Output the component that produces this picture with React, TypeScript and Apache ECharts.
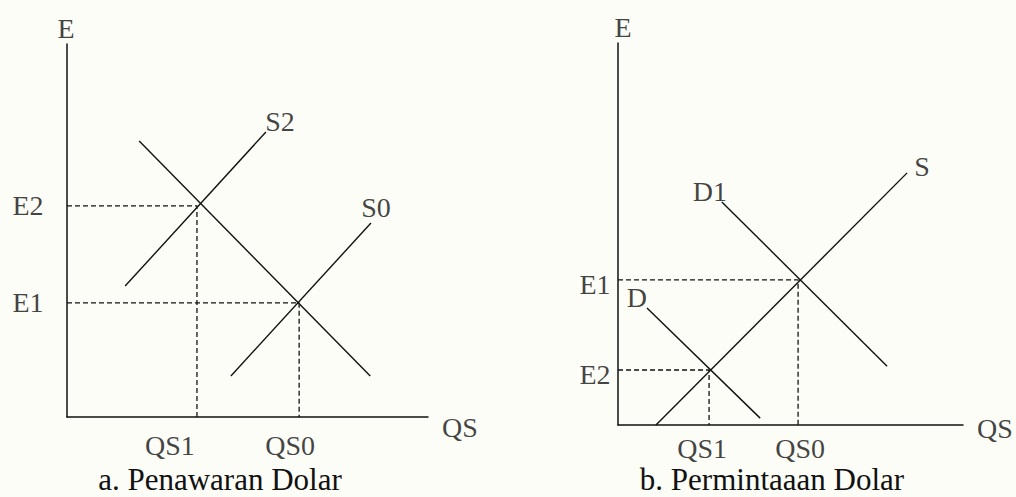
import React, { useEffect, useRef } from "react";
import * as echarts from "echarts";

// ---- Data (axis units 0..100) ----
// Panel a: Penawaran Dolar
const aELevels = { E1: 30.6, E2: 56.6 };
const aQSLevels = { QS0: 64.3, QS1: 36.0 };
const aDemand: number[][] = [[20, 74], [84, 11]];
const aS2: number[][] = [[16.1, 35.1], [55.1, 76.4]];
const aS0: number[][] = [[45.4, 11], [84.2, 52]];

// Panel b: Permintaaan Dolar
const bELevels = { E1: 38.0, E2: 14.4 };
const bQSLevels = { QS0: 52.2, QS1: 26.4 };
const bS: number[][] = [[11, 0], [83.8, 66]];
const bD1: number[][] = [[30.1, 58.4], [78, 15.4]];
const bD: number[][] = [[8.4, 30.6], [41.2, 1.8]];

const titles = ["a. Penawaran Dolar", "b. Permintaaan Dolar"];

const FONT = "Liberation Serif";
const INK = "#111111";
const LBL = 28;

function solid(name: string, data: number[][], idx: number) {
  return {
    type: "line",
    name,
    xAxisIndex: idx,
    yAxisIndex: idx,
    data,
    symbol: "none",
    lineStyle: { color: INK, width: 1.4 },
    silent: true,
  };
}
function dashed(name: string, pts: number[][], idx: number) {
  return {
    type: "line",
    name,
    xAxisIndex: idx,
    yAxisIndex: idx,
    data: pts,
    symbol: "none",
    lineStyle: { color: INK, width: 1.3, type: [5, 3] },
    silent: true,
  };
}
function labels(idx: number, items: { text: string; at: number[]; dx: number; dy: number }[]) {
  return {
    type: "scatter",
    xAxisIndex: idx,
    yAxisIndex: idx,
    symbolSize: 0,
    silent: true,
    clip: false,
    data: items.map((it) => ({
      value: it.at,
      label: {
        show: true,
        position: "inside",
        offset: [it.dx, it.dy],
        formatter: it.text,
        fontFamily: FONT,
        fontSize: LBL,
        color: INK,
        align: "center",
        verticalAlign: "middle",
      },
    })),
  };
}

export default function App() {
  const ref = useRef<HTMLDivElement>(null);
  useEffect(() => {
    if (!ref.current) return;
    const chart = echarts.init(ref.current, undefined, { renderer: "svg" });
    const axisBase = {
      type: "value",
      min: 0,
      max: 100,
      axisLine: { show: true, onZero: false, lineStyle: { color: INK, width: 1.5 } },
      axisTick: { show: false },
      axisLabel: { show: false },
      splitLine: { show: false },
    };
    const first = (d: number[][]) => d[0];
    const last = (d: number[][]) => d[d.length - 1];
    const titleStyle = { fontFamily: FONT, fontSize: 31, lineHeight: 31, fontWeight: "normal", color: INK };
    chart.setOption({
      animation: false,
      backgroundColor: "#fdfdf8",
      title: [
        { text: titles[0], left: 220, top: 464, padding: 0, textAlign: "center", textStyle: titleStyle },
        { text: titles[1], left: 772, top: 464, padding: 0, textAlign: "center", textStyle: titleStyle },
      ],
      grid: [
        { left: 67, top: 44, width: 361, height: 373 },
        { left: 618, top: 43, width: 345, height: 382 },
      ],
      xAxis: [
        { ...axisBase, gridIndex: 0 },
        { ...axisBase, gridIndex: 1 },
      ],
      yAxis: [
        { ...axisBase, gridIndex: 0 },
        { ...axisBase, gridIndex: 1 },
      ],
      series: [
        // Panel a
        dashed("E2a", [[0, aELevels.E2], [aQSLevels.QS1, aELevels.E2], [aQSLevels.QS1, 0]], 0),
        dashed("E1a", [[0, aELevels.E1], [aQSLevels.QS0, aELevels.E1], [aQSLevels.QS0, 0]], 0),
        solid("Demand", aDemand, 0),
        solid("S2", aS2, 0),
        solid("S0", aS0, 0),
        labels(0, [
          { text: "E", at: [0, 100], dx: -1, dy: -16 },
          { text: "QS", at: [100, 0], dx: 32, dy: 10 },
          { text: "E2", at: [0, aELevels.E2], dx: -39, dy: 0 },
          { text: "E1", at: [0, aELevels.E1], dx: -39, dy: 0 },
          { text: "QS1", at: [aQSLevels.QS1, 0], dx: -27, dy: 28 },
          { text: "QS0", at: [aQSLevels.QS0, 0], dx: -9, dy: 28 },
          { text: "S2", at: last(aS2), dx: 14, dy: -11 },
          { text: "S0", at: last(aS0), dx: 5, dy: -16 },
        ]),
        // Panel b
        dashed("E1b", [[0, bELevels.E1], [bQSLevels.QS0, bELevels.E1], [bQSLevels.QS0, 0]], 1),
        dashed("E2b", [[0, bELevels.E2], [bQSLevels.QS1, bELevels.E2], [bQSLevels.QS1, 0]], 1),
        solid("S", bS, 1),
        solid("D1", bD1, 1),
        solid("D", bD, 1),
        labels(1, [
          { text: "E", at: [0, 100], dx: 5, dy: -16 },
          { text: "QS", at: [100, 0], dx: 32, dy: 3 },
          { text: "E1", at: [0, bELevels.E1], dx: -23, dy: 5 },
          { text: "E2", at: [0, bELevels.E2], dx: -23, dy: 5 },
          { text: "QS1", at: [bQSLevels.QS1, 0], dx: -7, dy: 23 },
          { text: "QS0", at: [bQSLevels.QS0, 0], dx: 2, dy: 23 },
          { text: "S", at: last(bS), dx: 15, dy: -6 },
          { text: "D1", at: first(bD1), dx: -12, dy: -10 },
          { text: "D", at: first(bD), dx: -10, dy: -11 },
        ]),
      ],
    });
    return () => chart.dispose();
  }, []);
  return (
    <div
      ref={ref}
      style={{ position: "fixed", left: 0, top: 0, width: 1016, height: 497 }}
    />
  );
}
